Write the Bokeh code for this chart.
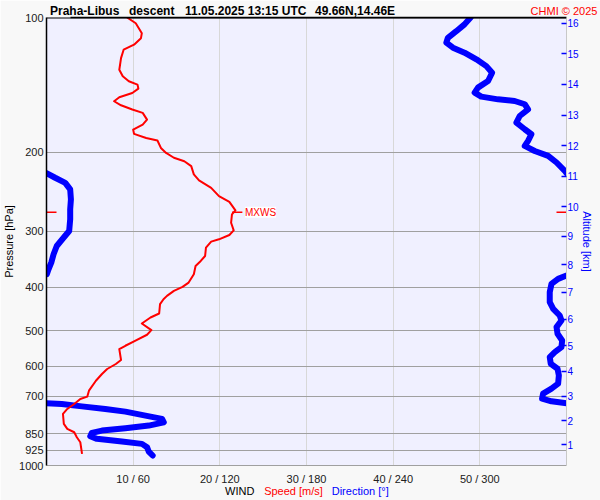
import math
from bokeh.plotting import figure
from bokeh.models import (Range1d, LogAxis, LinearAxis, FixedTicker, Label, Span)
from bokeh.embed import file_html
from bokeh.resources import INLINE

# ---------------- data ----------------
station_title = ["Praha-Libus", "descent", "11.05.2025 13:15 UTC", "49.66N,14.46E"]
credit = "CHMI \u00a9 2025"
wind_caption = ["WIND", "Speed [m/s]", "Direction [\u00b0]"]

# wind speed profile (pressure hPa, speed m/s)
speed_p = [100, 103, 108.4, 111.2, 115.0, 118.0, 123.2, 130.8, 135.3, 138.8, 141.2, 144.1,
           147.4, 150.7, 153.8, 157.0, 160.5, 163.3, 169.0, 173.4, 177.9, 181.9, 185.7,
           188.2, 195.5, 200.6, 205.6, 209.3, 214.7, 224.0, 231.0, 240.0, 250.4, 257.9,
           269.5, 275.1, 287.2, 298.7, 305.9, 312.7, 316.5, 326.5, 340.7, 349.5, 358.6,
           374.2, 390.6, 399.4, 407.6, 418.2, 425.4, 436.4, 457.9, 467.4, 482.0, 498.6,
           510.7, 528.6, 540.4, 549.6, 581.5, 593.5, 609.0, 624.9, 646.8, 680.8, 702.0,
           710.3, 728.9, 747.8, 767.3, 807.5, 828.6, 843.0, 864.9, 887.4, 941.7]
speed_ms = [9.3, 10.3, 11.0, 10.9, 10.1, 8.9, 8.6, 8.4, 8.8, 9.5, 10.5, 10.6,
            9.9, 8.4, 7.8, 8.6, 9.9, 11.1, 11.6, 11.1, 10.0, 10.1, 11.5,
            12.8, 13.2, 13.8, 14.7, 15.9, 16.7, 17.0, 17.6, 19.0, 19.9, 21.1,
            21.8, 21.4, 21.3, 21.6, 21.1, 19.9, 19.0, 18.4, 18.3, 17.8, 17.2,
            17.0, 16.4, 15.7, 14.7, 13.9, 13.5, 13.1, 13.0, 12.0, 11.0, 12.1,
            11.6, 10.1, 9.1, 8.4, 8.6, 8.0, 7.0, 6.4, 5.7, 4.9, 4.7,
            3.9, 3.2, 2.4, 1.9, 2.0, 2.4, 3.2, 3.5, 3.9, 4.1]

# wind direction profile (pressure hPa, direction deg)
dir_p = [100, 103.6, 107.3, 111.0, 113.8, 116.8, 119.8, 124.0, 128.4, 132.8, 138.6, 143.4,
         147.1, 150.2, 152.3, 153.6, 156.2, 160.3, 165.9, 171.6, 177.6, 182.2, 188.6, 193.5,
         198.6, 203.7, 210.7, 219.9, 222.6,
         222.6, 227.9, 233.9, 241.9, 254.7, 268.1, 282.2, 299.7, 310.1, 323.6, 337.7, 352.5,
         364.7, 374.2,
         376.8, 383.2, 393.2, 410.4, 431.9, 447.0, 462.6, 474.6, 491.0, 508.2, 526.0, 544.0,
         558.2, 572.7, 592.8, 608.1, 629.3, 656.7, 673.7, 691.2, 709.2, 719.1, 726.0,
         726.0, 728.9, 737.9, 747.8, 758.2, 773.9, 787.0, 801.0, 814.6, 826.0, 835.6, 845.6,
         860.4, 872.0, 884.2, 894.8, 910.4, 930.8, 950.0]
dir_deg = [293.6, 289.4, 283.7, 277.9, 276.8, 281.4, 289.4, 297.6, 304.5, 308.5, 305.7, 298.7,
           296.4, 301.0, 312.6, 324.1, 331.1, 333.4, 327.6, 325.3, 331.1, 335.7, 333.4, 331.1,
           338.0, 347.3, 353.1, 358.8, 360.0,
           0.0, 6.0, 13.0, 16.4, 16.9, 16.4, 16.4, 15.7, 11.8, 7.1, 4.9, 3.3,
           1.4, 0.2,
           360.0, 354.2, 349.6, 348.4, 348.4, 350.8, 355.3, 356.5, 353.1, 353.8, 357.0, 356.5,
           351.9, 348.4, 349.1, 353.8, 354.7, 354.2, 349.6, 343.8, 343.1, 349.6, 360.0,
           0.0, 10.6, 24.5, 40.7, 54.6, 68.5, 80.0, 81.2, 70.8, 54.6, 38.4, 31.4,
           30.3, 34.9, 52.2, 66.1, 69.6, 70.8, 73.5]

mxws_p = 272.0
mxws_s = 21.4

x_ticks = [10, 20, 30, 40, 50]
x_tick_labels = ["10 / 60", "20 / 120", "30 / 180", "40 / 240", "50 / 300"]
p_ticks = [100, 200, 300, 400, 500, 600, 700, 850, 925, 1000]
p_tick_labels = ["100", "200", "300", "400", "500", "600", "700", "850", "925", "1000"]
alt_km = list(range(1, 17))


def isa_pressure(h_km):
    h = h_km * 1000.0
    if h <= 11000:
        return 1013.25 * (1 - 0.0065 * h / 288.15) ** 5.25588
    return 226.3206 * math.exp(-9.80665 * 0.0289644 * (h - 11000) / (8.31447 * 216.65))


alt_p = [isa_pressure(h) for h in alt_km]

FONT = "Liberation Sans"
W, H = 600, 500
BL, BR, BT, BB = 46, 34, 16, 35

p = figure(width=W, height=H, x_range=Range1d(0, 60), y_range=Range1d(1000, 100),
           y_axis_type="log", output_backend="svg", toolbar_location=None,
           min_border_left=BL, min_border_right=BR, min_border_top=BT, min_border_bottom=BB,
           background_fill_color="#f0f0ff", border_fill_color="#f8f8f8",
           outline_line_color=None)
p.extra_x_ranges = {"dir": Range1d(0, 360)}


def bare(axis):
    axis.major_tick_in = 0
    axis.major_tick_out = 0
    axis.minor_tick_in = 0
    axis.minor_tick_out = 0
    axis.minor_tick_line_color = None
    axis.major_label_text_font = FONT


# left axis (pressure)
ya = p.yaxis[0]
bare(ya)
ya.ticker = FixedTicker(ticks=p_ticks)
ya.major_label_overrides = {v: s for v, s in zip(p_ticks, p_tick_labels)}
ya.axis_line_color = "black"
ya.axis_line_width = 1.5
ya.major_label_text_font_size = "11px"
ya.major_label_text_color = "#202020"
ya.major_label_standoff = 3
ya.axis_label = "Pressure [hPa]"
ya.axis_label_text_font = FONT
ya.axis_label_text_font_size = "11px"
ya.axis_label_text_font_style = "normal"
ya.axis_label_text_color = "black"
ya.axis_label_standoff = 1

# bottom axis (wind)
xa = p.xaxis[0]
bare(xa)
xa.ticker = FixedTicker(ticks=x_ticks)
xa.major_label_overrides = {v: s for v, s in zip(x_ticks, x_tick_labels)}
xa.axis_line_color = "#a0a0a0"
xa.major_label_text_font_size = "11px"
xa.major_label_text_color = "#202020"
xa.major_label_standoff = 7

# right axis (altitude)
ra = LogAxis(ticker=FixedTicker(ticks=alt_p),
             major_label_overrides={v: str(k) for v, k in zip(alt_p, alt_km)},
             major_tick_line_color="blue", major_tick_line_width=1.5,
             axis_line_color="#c8c8c8",
             major_label_text_font_size="10px",
             major_label_text_color="blue", major_label_standoff=1,
             axis_label="Altitude [km]", axis_label_text_font=FONT,
             axis_label_text_font_size="11px", axis_label_text_font_style="normal",
             axis_label_text_color="blue", axis_label_standoff=-1)
bare(ra)
ra.major_tick_in = 5
p.add_layout(ra, "right")

# caption row under the wind axis: one text per axis so each keeps its colour
cap_x = [22.3, 28.5, 36.2]
cap_colors = ["black", "red", "blue"]
cap_standoff = [-3, -15, -15]
for cx, ct, cc, cs in zip(cap_x, wind_caption, cap_colors, cap_standoff):
    ax = LinearAxis(ticker=FixedTicker(ticks=[cx]), major_label_overrides={cx: ct},
                    axis_line_color=None, major_tick_line_color=None,
                    major_label_text_font_size="11px", major_label_text_color=cc,
                    major_label_standoff=cs)
    bare(ax)
    p.add_layout(ax, "below")

# title row: station/time/position as labels of a top axis whose line is the black frame top
title_x = [4.40, 12.14, 22.99, 35.60]
ta = LinearAxis(ticker=FixedTicker(ticks=title_x),
                major_label_overrides={tx: t for tx, t in zip(title_x, station_title)},
                axis_line_color="black", axis_line_width=1.5, major_tick_line_color=None,
                major_label_text_font_size="12px", major_label_text_font_style="bold",
                major_label_text_color="black", major_label_standoff=0,
                bounds=(2.8, 62.75))
bare(ta)
p.add_layout(ta, "above")
ca = LinearAxis(ticker=FixedTicker(ticks=[59.71]), major_label_overrides={59.71: credit},
                axis_line_color=None, major_tick_line_color=None,
                major_label_text_font_size="11px", major_label_text_color="red",
                major_label_standoff=-16)
bare(ca)
p.add_layout(ca, "above")

p.ygrid.grid_line_color = "#a0a0a0"
p.xgrid.grid_line_color = "#d8d8d8"
p.add_layout(Span(location=100, dimension="width", line_color="black", line_width=2))

# direction line split at 0/360 wrap
segs_x, segs_y = [[]], [[]]
for i, (pp, dd) in enumerate(zip(dir_p, dir_deg)):
    if i > 0 and abs(dd - dir_deg[i - 1]) > 180:
        segs_x.append([])
        segs_y.append([])
    segs_x[-1].append(dd)
    segs_y[-1].append(pp)
p.multi_line(xs=segs_x, ys=segs_y, x_range_name="dir", line_color="blue", line_width=6,
             line_join="round", line_cap="round")

# speed line
p.line(speed_ms, speed_p, line_color="red", line_width=2, line_join="round")

# max wind marks
p.scatter(x=[0, 60], y=[mxws_p, mxws_p], marker="dash", size=20, line_color="red", line_width=1.5)
p.segment(x0=[mxws_s], y0=[mxws_p], x1=[mxws_s + 1.2], y1=[mxws_p], line_color="red", line_width=1.5)
p.add_layout(Label(x=mxws_s, y=mxws_p, x_offset=13, text="MXWS", text_font=FONT,
                   text_font_size="10px", text_color="red", text_baseline="middle",
                   background_fill_color="white"))

open("out.html", "w").write(file_html(p, INLINE))
